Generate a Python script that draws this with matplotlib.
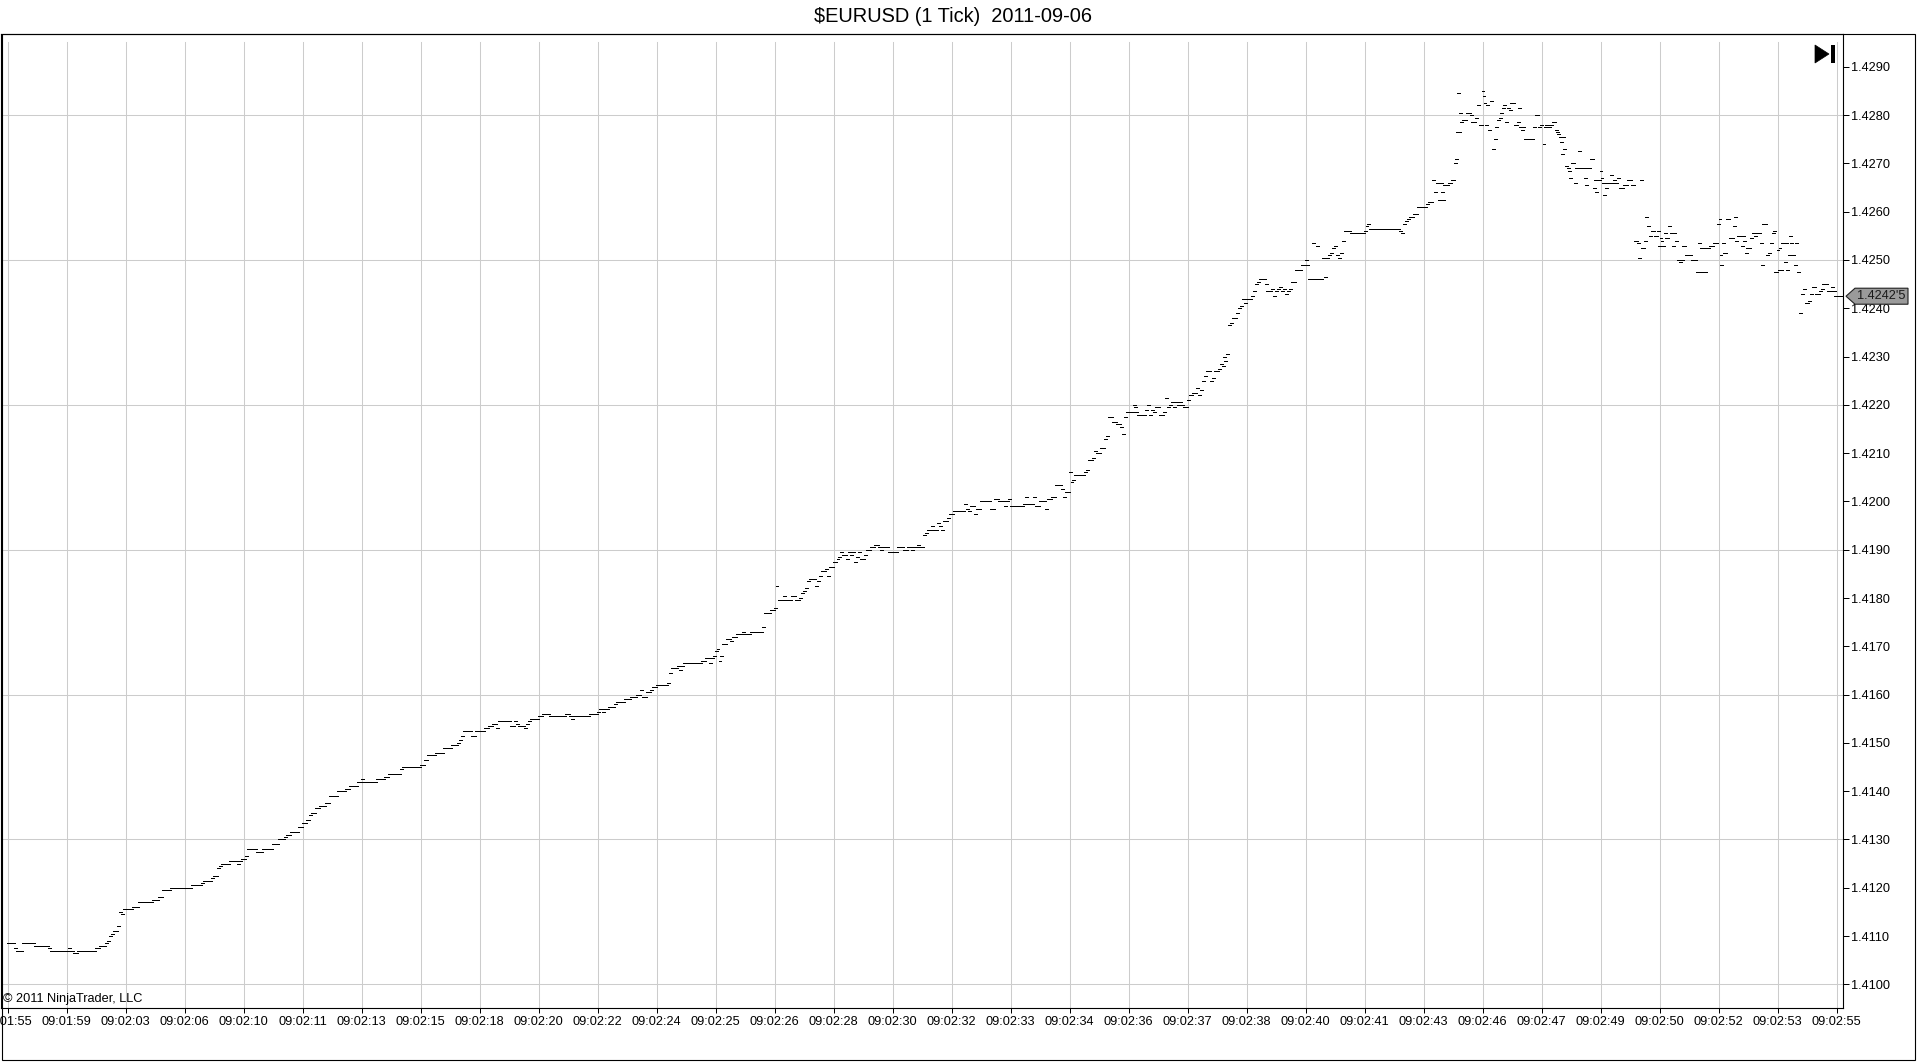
import matplotlib
matplotlib.use("Agg")
import matplotlib.pyplot as plt
from matplotlib.patches import Polygon, Rectangle
from matplotlib.transforms import IdentityTransform
import numpy as np

plt.rcParams['font.family'] = ['Liberation Sans', 'DejaVu Sans']

TITLE = "$EURUSD (1 Tick)  2011-09-06"
COPYRIGHT = "\u00a9 2011 NinjaTrader, LLC"

# time-axis labels (one every 60 ticks)
time_labels = ["09:01:55", "09:01:59", "09:02:03", "09:02:06", "09:02:10", "09:02:11",
               "09:02:13", "09:02:15", "09:02:18", "09:02:20", "09:02:22", "09:02:24",
               "09:02:25", "09:02:26", "09:02:28", "09:02:30", "09:02:32", "09:02:33",
               "09:02:34", "09:02:36", "09:02:37", "09:02:38", "09:02:40", "09:02:41",
               "09:02:43", "09:02:46", "09:02:47", "09:02:49", "09:02:50", "09:02:52",
               "09:02:53", "09:02:55"]
ticks_per_label = 60
last_tick = 1865

# price runs: (tick number where the price starts, price)
part1 = [(0, 1.41085), (8, 1.41075), (10, 1.41070), (16, 1.41085), (28, 1.41080), (42, 1.41075),
         (44, 1.41070), (62, 1.41075), (64, 1.41070), (68, 1.41065), (72, 1.41070), (90, 1.41075),
         (94, 1.41080), (100, 1.41085), (102, 1.41090), (104, 1.41100), (106, 1.41105), (108, 1.41110),
         (112, 1.41120), (114, 1.41150), (116, 1.41145), (118, 1.41155), (128, 1.41160), (134, 1.41170),
         (148, 1.41175), (154, 1.41180), (158, 1.41195), (166, 1.41200), (188, 1.41205), (198, 1.41210),
         (200, 1.41215), (208, 1.41220), (210, 1.41225), (214, 1.41240), (216, 1.41245), (218, 1.41250),
         (226, 1.41255), (234, 1.41250), (236, 1.41255), (238, 1.41260), (242, 1.41265), (244, 1.41280),
         (254, 1.41275), (260, 1.41280), (270, 1.41290), (276, 1.41300), (282, 1.41305), (284, 1.41310),
         (288, 1.41315), (296, 1.41325), (300, 1.41335), (304, 1.41340), (308, 1.41350), (310, 1.41355),
         (314, 1.41365), (318, 1.41370), (324, 1.41375), (328, 1.41390), (336, 1.41400), (344, 1.41405),
         (348, 1.41410), (356, 1.41420), (360, 1.41425), (362, 1.41420)]

part2 = [(376, 1.41425), (384, 1.41430), (388, 1.41435), (400, 1.41445), (402, 1.41450), (420, 1.41455),
         (424, 1.41465), (428, 1.41475), (436, 1.41480), (444, 1.41490), (452, 1.41495), (458, 1.41500),
         (460, 1.41505), (462, 1.41515), (464, 1.41525), (472, 1.41515), (476, 1.41525), (486, 1.41530),
         (490, 1.41535), (494, 1.41540), (498, 1.41530), (500, 1.41545), (512, 1.41535), (516, 1.41545),
         (518, 1.41540), (520, 1.41535), (526, 1.41530), (528, 1.41540), (530, 1.41545), (532, 1.41550),
         (540, 1.41555), (544, 1.41560), (552, 1.41555), (568, 1.41560), (572, 1.41555), (574, 1.41550),
         (576, 1.41555), (592, 1.41560), (600, 1.41565), (602, 1.41570), (606, 1.41565), (608, 1.41570),
         (612, 1.41575), (618, 1.41580), (620, 1.41585), (628, 1.41590), (634, 1.41595), (640, 1.41600),
         (644, 1.41610), (646, 1.41595), (650, 1.41605), (654, 1.41610), (656, 1.41615), (660, 1.41620),
         (672, 1.41625), (674, 1.41645), (676, 1.41655), (682, 1.41660), (684, 1.41650), (686, 1.41660),
         (688, 1.41665), (706, 1.41670), (710, 1.41675), (714, 1.41665), (716, 1.41675), (718, 1.41680),
         (720, 1.41690), (722, 1.41695), (724, 1.41670), (726, 1.41680), (728, 1.41705), (732, 1.41715)]

part3 = [(736, 1.41710), (738, 1.41720), (742, 1.41725), (748, 1.41730), (750, 1.41725), (756, 1.41730),
         (768, 1.41740), (770, 1.41770), (776, 1.41775), (780, 1.41780), (782, 1.41825), (784, 1.41795),
         (790, 1.41805), (792, 1.41795), (798, 1.41805), (802, 1.41795), (806, 1.41800), (808, 1.41810),
         (810, 1.41815), (812, 1.41820), (814, 1.41835), (816, 1.41840), (822, 1.41825), (824, 1.41835),
         (826, 1.41845), (828, 1.41855), (832, 1.41860), (834, 1.41845), (836, 1.41865), (840, 1.41875),
         (844, 1.41880), (846, 1.41885), (848, 1.41895), (850, 1.41890), (854, 1.41880), (856, 1.41895),
         (858, 1.41890), (860, 1.41895), (862, 1.41875), (864, 1.41885), (866, 1.41895), (868, 1.41880),
         (872, 1.41890), (874, 1.41900), (878, 1.41905), (882, 1.41910), (886, 1.41905), (888, 1.41900),
         (890, 1.41905), (896, 1.41895), (906, 1.41905), (912, 1.41900), (916, 1.41905), (920, 1.41900),
         (922, 1.41905), (926, 1.41910), (928, 1.41905), (932, 1.41930), (934, 1.41935), (936, 1.41940),
         (940, 1.41950), (942, 1.41940), (946, 1.41955), (948, 1.41950), (950, 1.41940), (952, 1.41960),
         (956, 1.41965), (958, 1.41975), (962, 1.41980), (974, 1.41995), (976, 1.41985), (978, 1.41980),
         (980, 1.41990), (984, 1.41975), (986, 1.41985), (990, 1.42000), (1000, 1.41985), (1004, 1.42005),
         (1008, 1.42000), (1014, 1.41990), (1016, 1.42000), (1018, 1.42005), (1020, 1.41990), (1034, 1.41995),
         (1036, 1.42010), (1038, 1.41995), (1044, 1.42010), (1046, 1.41990), (1050, 1.42000), (1056, 1.41985),
         (1058, 1.42005), (1062, 1.42010), (1066, 1.42035), (1072, 1.42025), (1074, 1.42010), (1076, 1.42020),
         (1080, 1.42060), (1082, 1.42040), (1084, 1.42045), (1086, 1.42055), (1096, 1.42060), (1098, 1.42065),
         (1100, 1.42085), (1104, 1.42090), (1106, 1.42105), (1108, 1.42100), (1112, 1.42110), (1116, 1.42130),
         (1118, 1.42135), (1120, 1.42175), (1124, 1.42165), (1128, 1.42160), (1132, 1.42155), (1134, 1.42140),
         (1136, 1.42175), (1138, 1.42185)]

part4 = [(1142, 1.42185), (1146, 1.42200), (1147, 1.42195), (1148, 1.42185), (1150, 1.42180), (1158, 1.42190),
         (1160, 1.42200), (1162, 1.42180), (1164, 1.42190), (1166, 1.42185), (1168, 1.42195), (1172, 1.42180),
         (1176, 1.42185), (1178, 1.42215), (1180, 1.42195), (1182, 1.42200), (1184, 1.42205), (1186, 1.42195),
         (1188, 1.42205), (1190, 1.42200), (1192, 1.42205), (1194, 1.42200), (1196, 1.42195), (1200, 1.42210),
         (1202, 1.42220), (1206, 1.42225), (1210, 1.42235), (1212, 1.42220), (1214, 1.42230), (1216, 1.42250),
         (1218, 1.42260), (1220, 1.42270), (1224, 1.42250), (1226, 1.42255), (1228, 1.42270), (1232, 1.42275),
         (1234, 1.42285), (1236, 1.42280), (1237, 1.42300), (1238, 1.42290), (1240, 1.42305), (1242, 1.42365),
         (1244, 1.42370), (1246, 1.42380), (1250, 1.42390), (1252, 1.42400), (1254, 1.42405), (1256, 1.42420),
         (1258, 1.42410), (1260, 1.42420), (1266, 1.42425), (1268, 1.42435), (1270, 1.42450), (1272, 1.42455),
         (1274, 1.42460), (1280, 1.42450), (1281, 1.42435), (1286, 1.42440), (1288, 1.42425), (1290, 1.42435),
         (1292, 1.42440), (1294, 1.42445), (1296, 1.42435), (1298, 1.42440), (1300, 1.42430), (1302, 1.42435),
         (1304, 1.42440), (1306, 1.42455), (1310, 1.42480), (1316, 1.42490), (1320, 1.42500), (1322, 1.42490),
         (1324, 1.42460), (1328, 1.42535), (1330, 1.42460), (1332, 1.42530), (1334, 1.42460), (1338, 1.42505),
         (1340, 1.42465), (1342, 1.42505), (1344, 1.42510), (1346, 1.42515), (1348, 1.42525), (1350, 1.42530),
         (1352, 1.42510), (1354, 1.42505), (1356, 1.42515), (1358, 1.42540), (1360, 1.42560), (1366, 1.42555),
         (1380, 1.42560), (1382, 1.42570), (1384, 1.42575), (1386, 1.42565), (1416, 1.42560), (1418, 1.42555),
         (1420, 1.42575), (1422, 1.42580), (1424, 1.42585), (1426, 1.42590), (1430, 1.42595), (1434, 1.42610),
         (1444, 1.42615), (1446, 1.42620), (1450, 1.42665), (1452, 1.42640), (1454, 1.42660), (1456, 1.42625)]

part5 = [(1458, 1.42660), (1459, 1.42640), (1460, 1.42625), (1461, 1.42655), (1466, 1.42660), (1469, 1.42665),
         (1472, 1.42700), (1473, 1.42710), (1474, 1.42765), (1475, 1.42845), (1476, 1.42765), (1477, 1.42805),
         (1478, 1.42785), (1480, 1.42790), (1484, 1.42805), (1488, 1.42800), (1489, 1.42785), (1493, 1.42795),
         (1495, 1.42820), (1497, 1.42780), (1500, 1.42850), (1501, 1.42840), (1502, 1.42825), (1504, 1.42780),
         (1505, 1.42820), (1507, 1.42770), (1509, 1.42830), (1511, 1.42730), (1513, 1.42750), (1514, 1.42775),
         (1516, 1.42790), (1518, 1.42795), (1519, 1.42805), (1521, 1.42815), (1522, 1.42820), (1524, 1.42785),
         (1526, 1.42815), (1528, 1.42810), (1529, 1.42825), (1533, 1.42780), (1536, 1.42785), (1537, 1.42815),
         (1538, 1.42775), (1540, 1.42770), (1541, 1.42775), (1543, 1.42750), (1552, 1.42775), (1554, 1.42800),
         (1557, 1.42775), (1559, 1.42780), (1562, 1.42740), (1564, 1.42775), (1565, 1.42780), (1568, 1.42775),
         (1570, 1.42780), (1572, 1.42785), (1575, 1.42770), (1576, 1.42765), (1577, 1.42760), (1579, 1.42755),
         (1580, 1.42745), (1581, 1.42720), (1582, 1.42755), (1583, 1.42730), (1585, 1.42695), (1587, 1.42690),
         (1588, 1.42685), (1589, 1.42670), (1591, 1.42700), (1594, 1.42660), (1595, 1.42690), (1598, 1.42725),
         (1599, 1.42690), (1604, 1.42670), (1605, 1.42655), (1606, 1.42690), (1610, 1.42710), (1613, 1.42650),
         (1614, 1.42665), (1615, 1.42640), (1616, 1.42665), (1620, 1.42685), (1621, 1.42670), (1622, 1.42660),
         (1624, 1.42635), (1625, 1.42660), (1626, 1.42650), (1627, 1.42660), (1631, 1.42675), (1633, 1.42660),
         (1634, 1.42665), (1636, 1.42660), (1638, 1.42670), (1640, 1.42650), (1644, 1.42655), (1648, 1.42665),
         (1652, 1.42655)]

part6 = [(1655, 1.42540), (1658, 1.42535), (1659, 1.42505), (1661, 1.42665), (1662, 1.42525), (1665, 1.42540),
         (1666, 1.42590), (1668, 1.42570), (1670, 1.42550), (1672, 1.42560), (1675, 1.42550), (1678, 1.42560),
         (1679, 1.42530), (1681, 1.42545), (1682, 1.42540), (1683, 1.42530), (1686, 1.42555), (1687, 1.42545),
         (1690, 1.42570), (1692, 1.42555), (1694, 1.42530), (1695, 1.42555), (1697, 1.42540), (1699, 1.42500),
         (1701, 1.42495), (1703, 1.42500), (1704, 1.42530), (1707, 1.42510), (1713, 1.42500), (1718, 1.42475),
         (1720, 1.42535), (1721, 1.42475), (1722, 1.42525), (1723, 1.42475), (1724, 1.42525), (1726, 1.42475),
         (1728, 1.42525), (1731, 1.42530), (1735, 1.42535), (1739, 1.42575), (1741, 1.42585), (1742, 1.42510),
         (1743, 1.42490), (1745, 1.42535), (1746, 1.42515), (1749, 1.42585), (1752, 1.42545), (1756, 1.42570),
         (1757, 1.42590), (1758, 1.42540), (1760, 1.42550), (1764, 1.42530), (1765, 1.42550), (1766, 1.42540),
         (1768, 1.42515), (1769, 1.42525), (1773, 1.42545), (1775, 1.42555), (1777, 1.42550), (1779, 1.42555),
         (1783, 1.42535), (1784, 1.42490), (1785, 1.42575), (1789, 1.42510), (1791, 1.42515), (1793, 1.42535),
         (1795, 1.42555), (1796, 1.42560), (1797, 1.42475), (1800, 1.42520), (1801, 1.42480), (1802, 1.42525),
         (1804, 1.42480), (1805, 1.42535), (1808, 1.42495), (1809, 1.42535), (1810, 1.42480), (1812, 1.42510),
         (1813, 1.42550), (1814, 1.42535), (1815, 1.42510), (1818, 1.42490), (1819, 1.42535), (1821, 1.42475),
         (1823, 1.42390), (1825, 1.42430), (1827, 1.42440), (1829, 1.42410), (1832, 1.42415), (1834, 1.42430),
         (1836, 1.42445), (1839, 1.42430), (1843, 1.42435), (1845, 1.42440), (1846, 1.42450), (1851, 1.42435),
         (1855, 1.42445), (1857, 1.42435), (1858, 1.42425)]

y_label_values = [1.4100 + 0.001 * i for i in range(20)]
y_grid_values = [1.4100 + 0.003 * i for i in range(7)]

# ---------------------------------------------------------------
W, H = 1920, 1064
fig = plt.figure(figsize=(W / 100, H / 100), dpi=100)
ax = fig.add_axes([1 / W, 56 / H, 1842.5 / W, 974 / H])

runs = sorted(part1 + part2 + part3 + part4 + part5 + part6, key=lambda r: r[0])
t = np.array([r[0] for r in runs], dtype=float)
p = np.array([r[1] for r in runs], dtype=float)
nxt = np.append(t[1:], last_tick + 1)
x0 = t - 1
x1 = np.maximum(nxt, t + 2)
ax.hlines(p, x0, x1, colors='black', linewidth=0.72, antialiased=False, zorder=3)

ax.set_xlim(-6.7, 1867.1)
ax.set_ylim(1.40951, 1.42968)

xt = np.arange(len(time_labels)) * ticks_per_label
ax.set_xticks(xt)
ax.set_xticklabels(time_labels)
ax.yaxis.tick_right()
ax.set_yticks(y_label_values)
ax.set_yticklabels([f"{v:.4f}" for v in y_label_values])
ax.tick_params(axis='x', direction='out', length=3.6, width=0.72, pad=2.2,
               labelsize=9.2, colors='black')
ax.tick_params(axis='y', direction='out', length=4.3, width=0.72, pad=0.8,
               labelsize=9.2, colors='black')

for v in xt:
    ax.axvline(v, ymin=0, ymax=0.9918, color='#cccccc', lw=0.75, zorder=1)
for v in y_grid_values:
    ax.axhline(v, color='#cccccc', lw=0.75, zorder=1)

for s in ax.spines.values():
    s.set_linewidth(0.8)
    s.set_color('black')

ax.text(0.001, 0.003, COPYRIGHT, transform=ax.transAxes, ha='left', va='bottom',
        fontsize=9.2, color='black')

fig.text(953 / W, 1 - 16 / H, TITLE, ha='center', va='center', fontsize=14.4, color='black')

# outer frame
fig.add_artist(Rectangle((1.5, 4.5), 1913, 1025.5, transform=IdentityTransform(),
                         fill=False, ec='black', lw=0.8))

# last price marker
last_price = p[-1]
yd = ax.transData.transform((0, last_price))[1]
marker = Polygon([(1846, yd), (1855, yd + 8), (1908, yd + 8), (1908, yd - 8), (1855, yd - 8)],
                 closed=True, transform=IdentityTransform(), fc='#9a9a9a', ec='#202020', lw=0.8,
                 zorder=10)
fig.add_artist(marker)
s = f"{last_price:.5f}"
fig.text(1857 / W, yd / H, s[:-1] + "'" + s[-1], ha='left', va='center', fontsize=9.2,
         color='#1a1a1a', zorder=11)

# "go to end" icon
fig.add_artist(Polygon([(1815, 1019), (1815, 1001), (1829, 1010)], closed=True,
                       transform=IdentityTransform(), fc='black', ec='black', lw=0.5))
fig.add_artist(Rectangle((1831, 1001), 4, 18, transform=IdentityTransform(),
                         fc='black', ec='none'))

fig.savefig('out.png', dpi=100)
